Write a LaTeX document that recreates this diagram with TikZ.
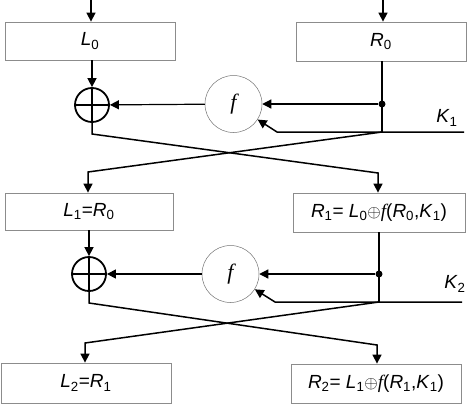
\documentclass[tikz,border=0pt]{standalone}
\usepackage{fontspec}
\setmainfont{Liberation Sans}
\newfontfamily\serf{Liberation Serif}
\usetikzlibrary{arrows.meta}
\newcommand\V[2]{\textit{#1}\textsubscript{\upshape #2}}
\newcommand\ff{{\serf\itshape f}}
\begin{document}
\begin{tikzpicture}[x=1pt,y=-1pt,
 ln/.style={line width=1.5pt},
 arr/.style={ln,-{Triangle[length=9pt,width=9pt]}},
 tarr/.style={line width=1.2pt,-{Triangle[length=9pt,width=9pt]}},
 blk/.style={draw=black!45,line width=0.8pt,minimum height=38pt,inner sep=0pt,font=\fontsize{19}{21}\selectfont},
 fn/.style={circle,draw=black!55,line width=0.5pt,minimum size=57pt,inner sep=0pt,font=\fontsize{22}{24}\serf\itshape},
 xor/.style={circle,draw,line width=1.8pt,minimum size=34pt,inner sep=0pt,
   path picture={\draw[line width=1.8pt] (path picture bounding box.north) -- (path picture bounding box.south)
     (path picture bounding box.west) -- (path picture bounding box.east);}},
 dotn/.style={circle,fill,inner sep=0pt,minimum size=7pt},
 lab/.style={font=\fontsize{19}{21}\selectfont}
]
\useasboundingbox (0,0) rectangle (467,405);

% boxes
\node[blk,minimum width=170pt,minimum height=38pt] (L0) at (90,41) {\V{L}{0}};
\node[blk,minimum width=170pt,minimum height=39pt] (R0) at (381,41.5) {\V{R}{0}};
\node[blk,minimum width=168pt,minimum height=37pt] (L1) at (89,211.5) {\V{L}{1}=\textit{R}\textsubscript{0}};
\node[blk,minimum width=172pt,minimum height=39pt] (R1) at (379,212.5) {\V{R}{1}= \V{L}{0}$\oplus$\ff(\V{R}{0},\V{K}{1})};
\node[blk,minimum width=170pt,minimum height=40pt] (L2) at (86,383) {\V{L}{2}=\V{R}{1}};
\node[blk,minimum width=170pt,minimum height=39pt] (R2) at (376,383.5) {\V{R}{2}= \V{L}{1}$\oplus$\ff(\V{R}{1},\V{K}{1})};

% round 1
\node[xor] (x1) at (92,105) {};
\node[fn] (f1) at (233.5,104) {f};
\node[dotn] (d1) at (382,104) {};
\coordinate (k1) at (382,132);
\coordinate (ks1) at (277,132);
\coordinate (ke1) at (464,132);
\node[lab] (K1) at (447,118) {\V{K}{1}};
\coordinate (tl) at (91,0);
\coordinate (tr) at (383,0);
\coordinate (a1) at (92,134);
\coordinate (b1) at (378,173);
\coordinate (c1) at (88,172);

\draw[arr] (tl) -- (tl |- L0.north);
\draw[arr] (tr) -- (tr |- R0.north);
\draw[arr] (x1 |- L0.south) -- (x1);
\draw[ln] (k1 |- R0.south) -- (k1);
\draw[tarr] (d1) -- (f1);
\draw[tarr] (f1) -- (x1);
\draw[arr] (ke1) -- (ks1) -- (f1);
\draw[arr] (x1.south) -- (a1) -- (b1) -- (b1 |- R1.north);
\draw[arr] (k1) -- (c1) -- (c1 |- L1.north);

% round 2
\node[xor] (x2) at (89,274) {};
\node[fn] (f2) at (230.5,274) {f};
\node[dotn] (d2) at (379,274) {};
\coordinate (k2) at (379,302);
\coordinate (ks2) at (275,302);
\coordinate (ke2) at (462,302);
\node[lab] (K2) at (455,284) {\V{K}{2}};
\coordinate (a2) at (89,303);
\coordinate (b2) at (377,345);
\coordinate (c2) at (85,343);

\draw[arr] (x2 |- L1.south) -- (x2);
\draw[ln] (k2 |- R1.south) -- (k2);
\draw[tarr] (d2) -- (f2);
\draw[tarr] (f2) -- (x2);
\draw[arr] (ke2) -- (ks2) -- (f2);
\draw[arr] (x2.south) -- (a2) -- (b2) -- (b2 |- R2.north);
\draw[arr] (k2) -- (c2) -- (c2 |- L2.north);
\end{tikzpicture}
\end{document}
